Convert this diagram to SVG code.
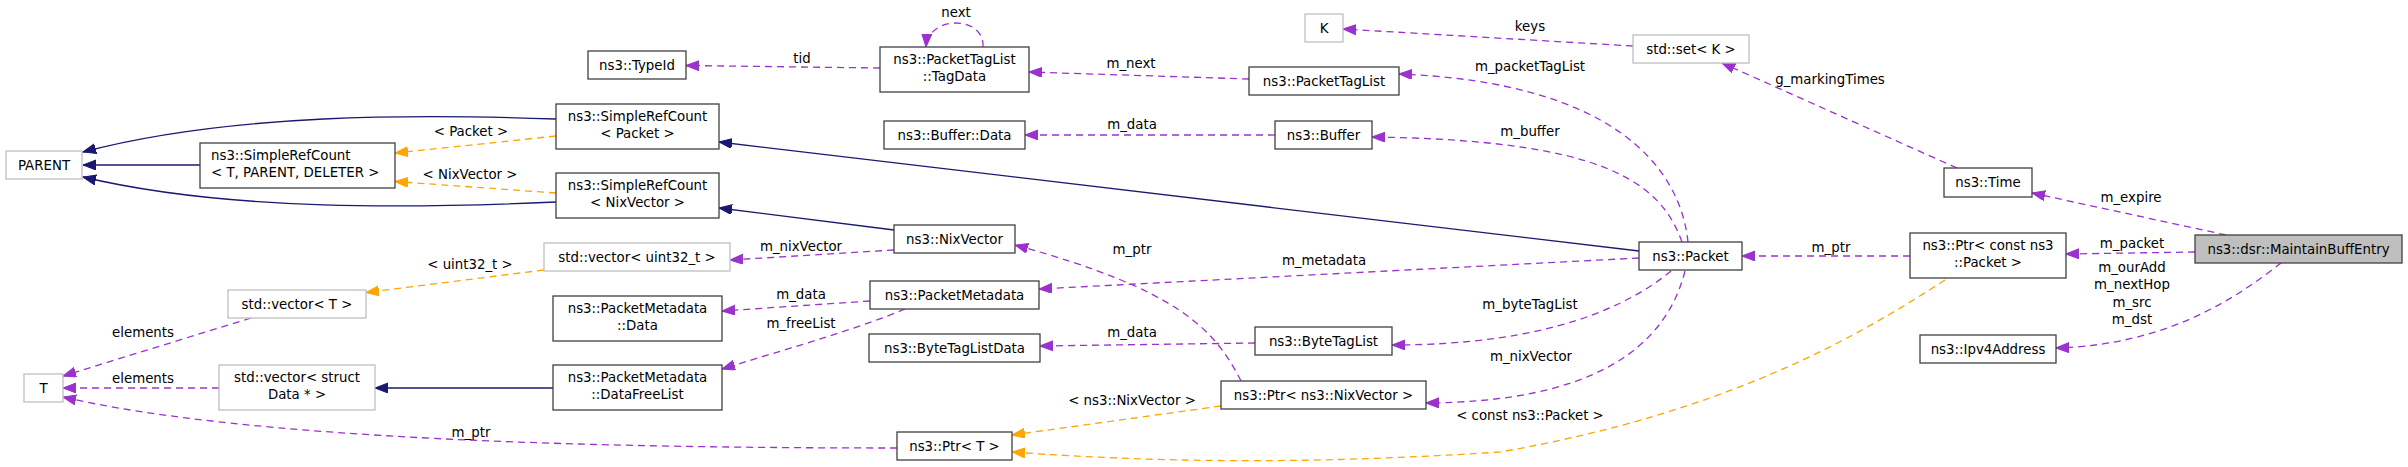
<svg xmlns="http://www.w3.org/2000/svg" width="2408" height="467" viewBox="0 0 2408 467">
<style>
text{font-family:"DejaVu Sans","Liberation Sans",sans-serif;font-size:13.33px;fill:#000}
.c{text-anchor:middle}
.s{text-anchor:start}
.n rect{fill:#fff;stroke:#404040;stroke-width:1.3}
.g rect{fill:#fff;stroke:#bfbfbf;stroke-width:1.3}
.sel rect{fill:#bfbfbf;stroke:#404040;stroke-width:1.3}
.inh{fill:none;stroke:#191970;stroke-width:1.3;marker-end:url(#an)}
.tpl{fill:none;stroke:#ffa500;stroke-width:1.3;stroke-dasharray:7,5;marker-end:url(#ao)}
.use{fill:none;stroke:#9a32cd;stroke-width:1.3;stroke-dasharray:7,5;marker-end:url(#ap)}
</style>
<defs>
<marker id="an" markerWidth="14" markerHeight="11" refX="13" refY="5" orient="auto" markerUnits="userSpaceOnUse"><path d="M0,0 L13,5 L0,10 z" fill="#191970" stroke="#191970" stroke-width="1"/></marker>
<marker id="ao" markerWidth="14" markerHeight="11" refX="13" refY="5" orient="auto" markerUnits="userSpaceOnUse"><path d="M0,0 L13,5 L0,10 z" fill="#ffa500" stroke="#ffa500" stroke-width="1"/></marker>
<marker id="ap" markerWidth="14" markerHeight="11" refX="13" refY="5" orient="auto" markerUnits="userSpaceOnUse"><path d="M0,0 L13,5 L0,10 z" fill="#9a32cd" stroke="#9a32cd" stroke-width="1"/></marker>
</defs>
<rect width="2408" height="467" fill="#fff"/>
<g id="edges">
<path class="inh" d="M556,119 C420,114 230,113 83,152"/>
<path class="inh" d="M200,165 L83,165"/>
<path class="inh" d="M556,202 C420,208 230,212 83,177"/>
<path class="inh" d="M1639,251 L719,142"/>
<path class="inh" d="M894,230 L719,208"/>
<path class="inh" d="M553,388 L375,388"/>
<path class="tpl" d="M556,136 L395,153"/>
<text class="c" x="471" y="136">&lt; Packet &gt;</text>
<path class="tpl" d="M556,193 L395,181.5"/>
<text class="c" x="470" y="179">&lt; NixVector &gt;</text>
<path class="tpl" d="M544,270 L366,292.5"/>
<text class="c" x="470" y="269">&lt; uint32_t &gt;</text>
<path class="tpl" d="M1221,406 L1012,435"/>
<text class="c" x="1132" y="405">&lt; ns3::NixVector &gt;</text>
<path class="tpl" d="M1945,280 C1860,335 1730,412 1500,452 C1300,465 1150,462 1012,452"/>
<text class="c" x="1530" y="420">&lt; const ns3::Packet &gt;</text>
<path class="use" d="M251,318 L63,376"/>
<text class="c" x="143" y="337">elements</text>
<path class="use" d="M219,388 L63,388"/>
<text class="c" x="143" y="383">elements</text>
<path class="use" d="M897,448 C600,448 250,440 63,397"/>
<text class="c" x="471" y="437">m_ptr</text>
<path class="use" d="M894,250 L730,260"/>
<text class="c" x="801" y="251">m_nixVector</text>
<path class="use" d="M870,301 L722,311"/>
<text class="c" x="801" y="299">m_data</text>
<path class="use" d="M905,309 C860,328 800,345 722,369"/>
<text class="c" x="801" y="328">m_freeList</text>
<path class="use" d="M880,68 L686,65.5"/>
<text class="c" x="802" y="63">tid</text>
<path class="use" d="M983,47 C985,15 928,15 926,47"/>
<text class="c" x="956" y="17">next</text>
<path class="use" d="M1249,79 L1029,72"/>
<text class="c" x="1131" y="68">m_next</text>
<path class="use" d="M1275,135 L1025,135"/>
<text class="c" x="1132" y="129">m_data</text>
<path class="use" d="M1688,242 C1680,165 1610,82 1399,74"/>
<text class="c" x="1530" y="71">m_packetTagList</text>
<path class="use" d="M1682,242 C1660,180 1600,140 1372,137"/>
<text class="c" x="1530" y="136">m_buffer</text>
<path class="use" d="M1639,258 L1039,289"/>
<text class="c" x="1324" y="265">m_metadata</text>
<path class="use" d="M1671,271 C1630,305 1550,345 1392,345"/>
<text class="c" x="1530" y="309">m_byteTagList</text>
<path class="use" d="M1255,343 L1040,346"/>
<text class="c" x="1132" y="337">m_data</text>
<path class="use" d="M1685,271 C1665,350 1590,402 1426,403"/>
<text class="c" x="1531" y="361">m_nixVector</text>
<path class="use" d="M1241,381 C1215,330 1180,290 1015,245"/>
<text class="c" x="1132" y="254">m_ptr</text>
<path class="use" d="M1633,46 L1343,29"/>
<text class="c" x="1530" y="31">keys</text>
<path class="use" d="M1957,168 L1722,63"/>
<text class="c" x="1830" y="84">g_markingTimes</text>
<path class="use" d="M2226,235 L2032,193"/>
<text class="c" x="2131" y="202">m_expire</text>
<path class="use" d="M2195,252 L2066,254"/>
<text class="c" x="2132" y="248">m_packet</text>
<path class="use" d="M1910,256 L1742,256"/>
<text class="c" x="1831" y="252">m_ptr</text>
<path class="use" d="M2281,263 C2240,295 2170,345 2056,348"/>
<text class="c" x="2132" y="272">m_ourAdd</text>
<text class="c" x="2132" y="289">m_nextHop</text>
<text class="c" x="2132" y="307">m_src</text>
<text class="c" x="2132" y="324">m_dst</text>
</g>
<g id="nodes">
<g id="n_parent" class="g"><rect x="6" y="151" width="76" height="28"/><text class="c" x="44" y="170">PARENT</text></g>
<g id="n_srctpd" class="n"><rect x="200" y="143" width="195" height="45"/><text class="s" x="211" y="160">ns3::SimpleRefCount</text><text class="s" x="211" y="177">&lt; T, PARENT, DELETER &gt;</text></g>
<g id="n_srcpkt" class="n"><rect x="556" y="104" width="163" height="45"/><text class="c" x="637.5" y="121">ns3::SimpleRefCount</text><text class="c" x="637.5" y="138">&lt; Packet &gt;</text></g>
<g id="n_srcnix" class="n"><rect x="556" y="173" width="163" height="45"/><text class="c" x="637.5" y="190">ns3::SimpleRefCount</text><text class="c" x="637.5" y="207">&lt; NixVector &gt;</text></g>
<g id="n_vecT" class="g"><rect x="228" y="290" width="138" height="28"/><text class="c" x="297" y="309">std::vector&lt; T &gt;</text></g>
<g id="n_T" class="g"><rect x="24" y="374" width="39" height="28"/><text class="c" x="43.5" y="393">T</text></g>
<g id="n_vecData" class="g"><rect x="219" y="365" width="156" height="45"/><text class="c" x="297" y="382">std::vector&lt; struct</text><text class="c" x="297" y="399">Data * &gt;</text></g>
<g id="n_vecU32" class="g"><rect x="544" y="243" width="186" height="28"/><text class="c" x="637" y="262">std::vector&lt; uint32_t &gt;</text></g>
<g id="n_pmData" class="n"><rect x="553" y="296" width="169" height="45"/><text class="c" x="637.5" y="313">ns3::PacketMetadata</text><text class="c" x="637.5" y="330">::Data</text></g>
<g id="n_pmFree" class="n"><rect x="553" y="365" width="169" height="45"/><text class="c" x="637.5" y="382">ns3::PacketMetadata</text><text class="c" x="637.5" y="399">::DataFreeList</text></g>
<g id="n_ptrT" class="n"><rect x="897" y="432" width="115" height="28"/><text class="c" x="954.5" y="451">ns3::Ptr&lt; T &gt;</text></g>
<g id="n_typeid" class="n"><rect x="588" y="51" width="98" height="28"/><text class="c" x="637" y="70">ns3::TypeId</text></g>
<g id="n_tagdata" class="n"><rect x="880" y="47" width="149" height="45"/><text class="c" x="954.5" y="64">ns3::PacketTagList</text><text class="c" x="954.5" y="81">::TagData</text></g>
<g id="n_bufdata" class="n"><rect x="884" y="121" width="141" height="28"/><text class="c" x="954.5" y="140">ns3::Buffer::Data</text></g>
<g id="n_nix" class="n"><rect x="894" y="225" width="121" height="28"/><text class="c" x="954.5" y="244">ns3::NixVector</text></g>
<g id="n_pm" class="n"><rect x="870" y="281" width="169" height="28"/><text class="c" x="954.5" y="300">ns3::PacketMetadata</text></g>
<g id="n_btld" class="n"><rect x="869" y="334" width="171" height="28"/><text class="c" x="954.5" y="353">ns3::ByteTagListData</text></g>
<g id="n_K" class="g"><rect x="1305" y="14" width="38" height="28"/><text class="c" x="1324" y="33">K</text></g>
<g id="n_ptl" class="n"><rect x="1249" y="67" width="150" height="28"/><text class="c" x="1324" y="86">ns3::PacketTagList</text></g>
<g id="n_buf" class="n"><rect x="1275" y="121" width="97" height="28"/><text class="c" x="1323.5" y="140">ns3::Buffer</text></g>
<g id="n_btl" class="n"><rect x="1255" y="327" width="137" height="28"/><text class="c" x="1323.5" y="346">ns3::ByteTagList</text></g>
<g id="n_ptrnix" class="n"><rect x="1221" y="381" width="205" height="28"/><text class="c" x="1323.5" y="400">ns3::Ptr&lt; ns3::NixVector &gt;</text></g>
<g id="n_pkt" class="n"><rect x="1639" y="242" width="103" height="28"/><text class="c" x="1690.5" y="261">ns3::Packet</text></g>
<g id="n_set" class="g"><rect x="1633" y="35" width="116" height="28"/><text class="c" x="1691" y="54">std::set&lt; K &gt;</text></g>
<g id="n_time" class="n"><rect x="1944" y="168" width="88" height="29"/><text class="c" x="1988" y="187">ns3::Time</text></g>
<g id="n_ptrcp" class="n"><rect x="1910" y="233" width="156" height="45"/><text class="c" x="1988" y="250">ns3::Ptr&lt; const ns3</text><text class="c" x="1988" y="267">::Packet &gt;</text></g>
<g id="n_ipv4" class="n"><rect x="1920" y="335" width="136" height="28"/><text class="c" x="1988" y="354">ns3::Ipv4Address</text></g>
<g id="n_mbe" class="sel"><rect x="2195" y="235" width="207" height="28"/><text class="c" x="2298.5" y="254">ns3::dsr::MaintainBuffEntry</text></g>
</g>
</svg>
